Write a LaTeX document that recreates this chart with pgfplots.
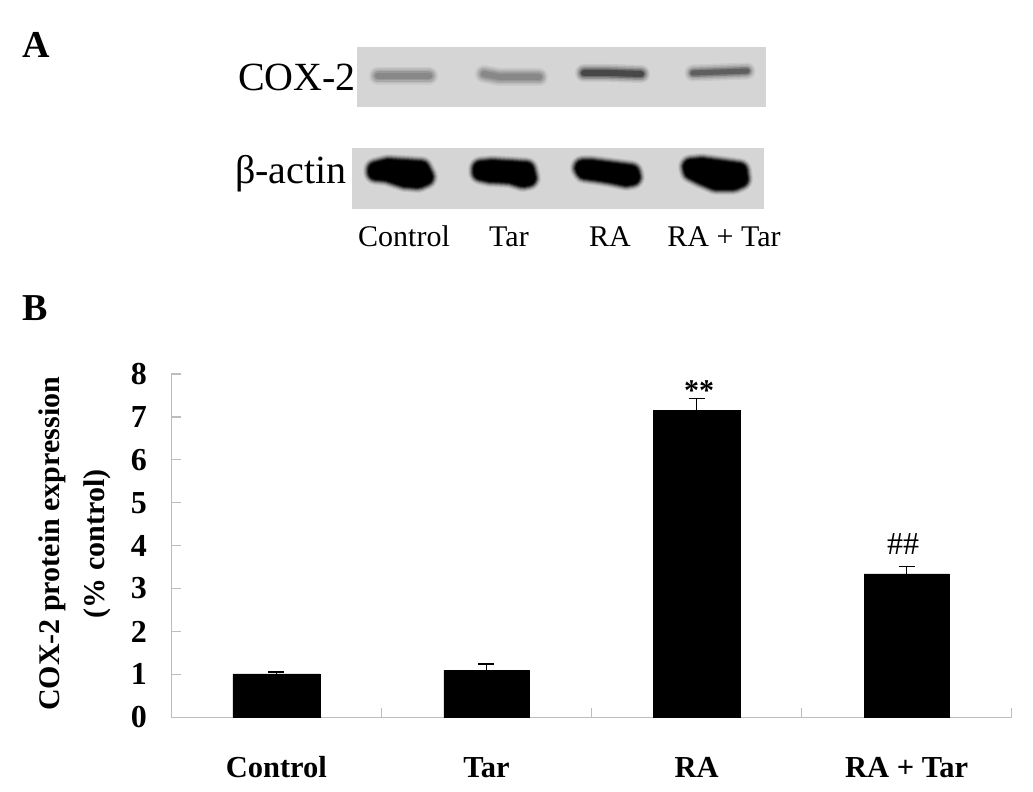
\documentclass[border=0pt]{standalone}
\usepackage{fontspec}
\setmainfont{Liberation Serif}
\usepackage{pgfplots}
\pgfplotsset{compat=1.18}
\definecolor{blotbg}{HTML}{D5D5D5}
\definecolor{axgrey}{HTML}{BDBDBD}
% soft band: stacked translucent strokes of decreasing width
\newcommand{\softband}[3]{%
  \foreach \w/\o in {#2}{%
    \edef\tmp{\noexpand\addplot[forget plot,draw=#3,line cap=round,line join=round,line width=\w pt,opacity=\o] coordinates {#1};}\tmp
  }}
% soft blob: stacked translucent filled outlines
\newcommand{\softblob}[1]{%
  \foreach \w/\o in {26/0.08,24/0.12,22/0.18,20/0.3,18/0.45,16/0.7,14/1}{%
    \edef\tmp{\noexpand\addplot[forget plot,draw=black,fill=black,line join=round,line width=\w pt,opacity=\o] coordinates {#1} --cycle;}\tmp
  }}
\begin{document}
\begin{tikzpicture}[x=1pt,y=1pt]
\useasboundingbox (0,0) rectangle (1033,792);
\begin{axis}[
  at={(0pt,0pt)},anchor=south west,
  width=1033pt,height=792pt,scale only axis,
  xmin=0,xmax=1033,ymin=0,ymax=792,y dir=reverse,
  hide axis,clip=true]
% blot backgrounds
\addplot[forget plot,fill=blotbg,draw=none] coordinates {(357,47) (766,47) (766,107) (357,107)} --cycle;
\addplot[forget plot,fill=blotbg,draw=none] coordinates {(352,148) (764,148) (764,209) (352,209)} --cycle;
% COX-2 bands
\softband{(378,76) (400,76) (429,76)}{18/0.05,15/0.07,12/0.09,9/0.1,6/0.1}{black}
\softband{(484,74) (500,77) (539,77)}{18/0.05,15/0.07,12/0.09,9/0.1,6/0.1}{black}
\softband{(584,73) (610,73) (641,74)}{18/0.07,15/0.1,12/0.15,9/0.25,6/0.35}{black}
\softband{(693,73) (720,72) (747,71)}{17/0.06,14/0.08,11/0.12,8/0.2,5/0.25}{black}
% actin bands
\softblob{(376,170) (388,167) (421,169) (425,177) (418,180) (405,179) (387,173) (376,172)}
\softblob{(481,169) (492,168) (526,170) (528,178) (523,179) (510,175) (490,174) (481,172)}
\softblob{(583,168) (592,168) (631,173) (632,177) (626,178) (612,175) (600,173) (585,171)}
\softblob{(691,167) (702,166) (739,171) (740,179) (733,182) (716,182) (702,176) (692,171)}
% panel text
\node[font=\fontsize{38}{38}\selectfont\bfseries,anchor=base west,inner sep=0pt] at (axis cs:22,58) {A};
\node[font=\fontsize{38}{38}\selectfont\bfseries,anchor=base west,inner sep=0pt] at (axis cs:22,320) {B};
\node[font=\fontsize{40}{40}\selectfont,anchor=base west,inner sep=0pt] at (axis cs:238,91) {COX-2};
\node[font=\fontsize{40}{40}\selectfont,anchor=base west,inner sep=0pt] at (axis cs:235,184) {β-actin};
\foreach \t/\x in {Control/404,Tar/509,RA/610,RA + Tar/724}{
  \edef\tmp{\noexpand\node[font=\noexpand\fontsize{30}{30}\noexpand\selectfont,anchor=base,inner sep=0pt] at (axis cs:\x,247) {\t};}\tmp
}
\node[font=\fontsize{30}{30}\selectfont\bfseries,anchor=base,inner sep=0pt] at (axis cs:699,400) {**};
\node[font=\fontsize{32}{32}\selectfont,anchor=base,inner sep=0pt] at (axis cs:903,554) {\#\#};
\end{axis}
\begin{axis}[
  at={(171.3pt,74.7pt)},anchor=south west,
  width=840.4pt,height=343.3pt,scale only axis,
  xmin=0,xmax=4,ymin=0,ymax=8,
  axis x line=bottom,axis y line=left,
  axis line style={draw=axgrey,line width=1.2pt,-},
  x axis line style={-},y axis line style={-},
  xtick={0.5,1.5,2.5,3.5},
  xticklabels={Control,Tar,RA,RA + Tar},
  major x tick style={draw=none},
  minor xtick={1,2,3,4},
  minor tick length=9pt,
  minor tick style={draw=axgrey,line width=1.2pt},
  ytick={0,...,8},
  y tick style={draw=axgrey,line width=1.2pt},
  major tick length=10pt,
  tick align=inside,
  tick pos=left,
  x tick label style={font=\fontsize{30.5}{30.5}\selectfont\bfseries,yshift=-50pt,anchor=center,text height=20pt,text depth=0pt},
  y tick label style={font=\fontsize{32}{32}\selectfont\bfseries,xshift=-21pt},
  /pgf/number format/assume math mode=true,
  ylabel={COX-2 protein expression\\(\% control)},
  ylabel style={font=\fontsize{30}{45}\selectfont\bfseries,align=center,at={(axis description cs:-0.068,0.505)},anchor=south},
  clip=false]
\addplot[ybar,bar width=87pt,bar shift=0pt,fill=black,draw=black,
  error bars/.cd,y dir=plus,y explicit,
  error bar style={black,line width=1.6pt},
  error mark options={rotate=90,black,mark size=8pt,line width=1.6pt}]
  coordinates {
  (0.5,1.01) +- (0,0.05)
  (2.5,7.16) +- (0,0.27)
  };
\addplot[ybar,bar width=85pt,bar shift=0pt,fill=black,draw=black,
  error bars/.cd,y dir=plus,y explicit,
  error bar style={black,line width=1.6pt},
  error mark options={rotate=90,black,mark size=8pt,line width=1.6pt}]
  coordinates {
  (1.5,1.10) +- (0,0.14)
  (3.5,3.34) +- (0,0.17)
  };
\end{axis}
\end{tikzpicture}
\end{document}
